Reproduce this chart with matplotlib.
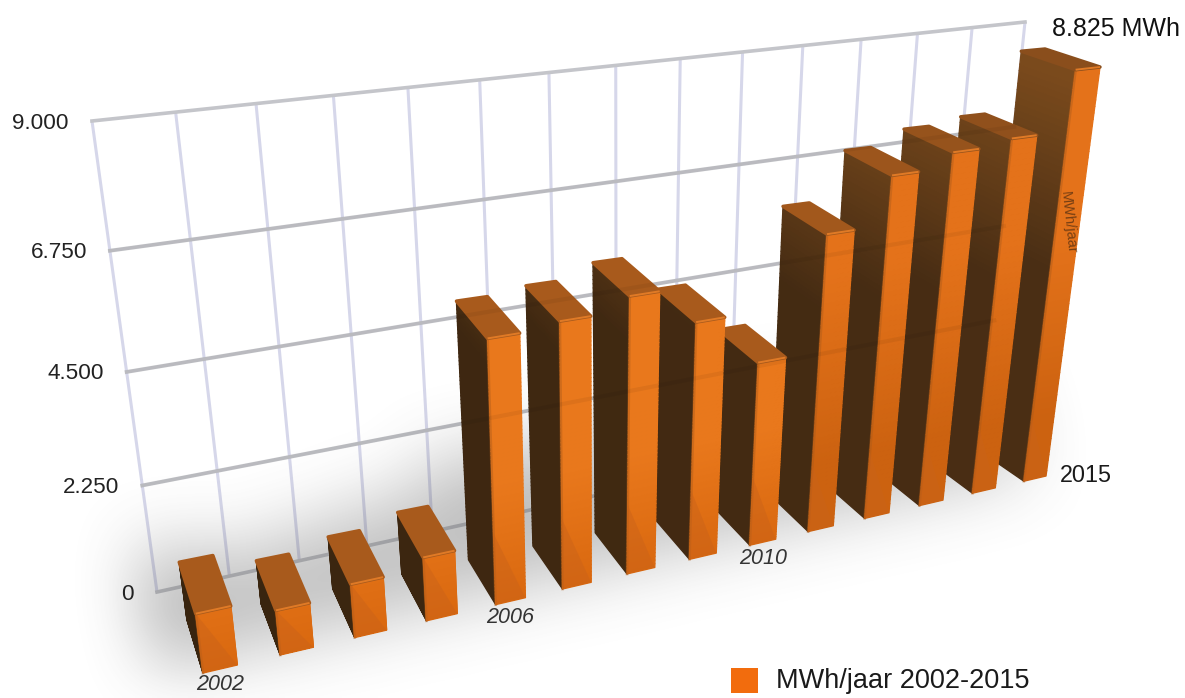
import numpy as np
import matplotlib
matplotlib.use("Agg")
import matplotlib.pyplot as plt
from matplotlib.collections import PolyCollection
from matplotlib.colors import to_rgb
from matplotlib.path import Path
from matplotlib.patches import Polygon, Rectangle

plt.rcParams['font.family'] = ['Liberation Sans', 'DejaVu Sans']

# values
years = list(range(2002, 2016))
values = [1190, 910, 1100, 1320, 5300, 5400, 5660, 4950, 3920, 6260, 7220, 7510, 7630, 8825]
y_ticks = [0, 2250, 4500, 6750, 9000]
y_tick_labels = ["0", "2.250", "4.500", "6.750", "9.000"]
year_labels = {2002: "2002", 2006: "2006", 2010: "2010"}
last_label = "2015"
top_label = "8.825 MWh"
legend_label = "MWh/jaar 2002-2015"
axis_title = "MWh/jaar"

W, H = 1185, 698
BAR_W = 0.44
VMAX = values[-1]


def homography(src, dst):
    # plain 4 point projective fit
    A, b = [], []
    for (x, y), (u, v) in zip(src, dst):
        A.append([x, y, 1, 0, 0, 0, -u * x, -u * y])
        A.append([0, 0, 0, x, y, 1, -v * x, -v * y])
        b += [u, v]
    h = np.linalg.solve(np.array(A, float), np.array(b, float))
    h = np.append(h, 1).reshape(3, 3)

    def f(x, y):
        p = h @ np.array([x, y, 1.0])
        return p[0] / p[2], p[1] / p[2]
    return f


# camera: wall, front of the bars, back of the bars
wall = homography([(-0.5, 0), (13.5, 0), (13.5, 9000), (-0.5, 9000)],
                  [(157, 592), (985, 410), (1025, 22), (92, 121)])
front = homography([(0, 0), (13.44, 0), (13.44, VMAX), (0, VMAX)],
                   [(203, 673), (1046, 476), (1100, 67), (142, 174)])
back = homography([(0, 0), (13.44, 0), (13.44, VMAX), (0, VMAX)],
                  [(187, 620), (1001, 446), (1045, 49), (122, 136)])


def mix(c1, c2, t):
    c1, c2 = np.array(to_rgb(c1)), np.array(to_rgb(c2))
    return tuple(c1 + (c2 - c1) * min(max(t, 0), 1))


def side_color(v, i):
    base = mix("#38240f", "#4a2e14", i / 13)
    return mix(base, "#7a4a1c", (v - 4800) / 3800)


def front_color(v, i):
    c = mix("#d9680f", "#e9781c", v / 2500)
    if i >= 9:
        c = mix("#cc6210", "#e4721a", (v - 1500) / 4000)
    return c


fig = plt.figure(figsize=(W / 100, H / 100), dpi=100)
ax = fig.add_axes([0, 0, 1, 1])
ax.set_xlim(0, W)
ax.set_ylim(H, 0)
ax.axis("off")

# grid on the wall
for i in range(15):
    p0 = wall(i - 0.5, 0)
    p1 = wall(i - 0.5, 9000)
    ax.plot([p0[0], p1[0]], [p0[1], p1[1]], color="#d6d7ea", lw=2.2, zorder=1, solid_capstyle="butt")
for t in y_ticks:
    p0 = wall(-0.5, t)
    p1 = wall(13.5, t)
    ax.plot([p0[0], p1[0]], [p0[1], p1[1]], color="#c4c5ca", lw=2.6, zorder=2)

# soft shadow under the bars
step = 3
gx, gy = np.meshgrid(np.arange(0, W, step), np.arange(0, H, step))
pts = np.column_stack([gx.ravel(), gy.ravel()])
mask = np.zeros(gx.shape)
for i, v in enumerate(values):
    h = min(v, 1900)
    quad = [front(i, 0), front(i + BAR_W, 0), back(i + BAR_W, h), back(i, h)]
    quad = [(x - 32, y - 8) for x, y in quad]
    mask[Path(quad).contains_points(pts).reshape(gx.shape)] = 1
for r in [13, 11, 9]:
    kernel = np.ones(2 * r + 1) / (2 * r + 1)
    mask = np.apply_along_axis(lambda m: np.convolve(m, kernel, mode="same"), 0, mask)
    mask = np.apply_along_axis(lambda m: np.convolve(m, kernel, mode="same"), 1, mask)
shadow = np.zeros(gx.shape + (4,))
shadow[..., :3] = 0.32
shadow[..., 3] = np.clip(mask * 0.85, 0, 0.6)
ax.imshow(shadow, extent=(0, W, H, 0), interpolation="bilinear", zorder=3, aspect="auto")
ax.set_xlim(0, W)
ax.set_ylim(H, 0)

# bars, far ones first
z = 5
for i in range(len(values) - 1, -1, -1):
    v = values[i]
    u0, u1 = i, i + BAR_W
    levels = np.linspace(0, v, 70)
    side_polys, side_cols, front_polys, front_cols = [], [], [], []
    for a, b in zip(levels[:-1], levels[1:]):
        side_polys.append([front(u0, a), front(u0, b), back(u0, b), back(u0, a)])
        side_cols.append(side_color((a + b) / 2, i))
        front_polys.append([front(u0, a), front(u1, a), front(u1, b), front(u0, b)])
        front_cols.append(front_color((a + b) / 2, i))
    ax.add_collection(PolyCollection(side_polys, facecolors=side_cols, edgecolors=side_cols, linewidths=1.0, zorder=z))
    ax.add_collection(PolyCollection(front_polys, facecolors=front_cols, edgecolors=front_cols, linewidths=1.0, zorder=z + 0.1))
    # soft edge between side and front
    ax.plot(*zip(front(u0, 0), front(u0, v)), color="#a8591a", alpha=0.4, lw=2.0, zorder=z + 0.15)
    # darker wedge at the foot of the front face
    wedge = [front(u0, 0), front(u1, 0), front(u0, min(v, 1500))]
    ax.add_patch(Polygon(wedge, closed=True, facecolor="#c9621a", alpha=0.45, edgecolor="none", zorder=z + 0.2))
    # top of the bar, rounded through the thick edge
    top_col = mix("#a85a1c", "#8a4e1c", (i - 8) / 5) if i > 8 else "#a85a1c"
    top = [front(u0, v), front(u1, v), back(u1, v), back(u0, v)]
    ax.add_patch(Polygon(top, closed=True, facecolor=top_col, edgecolor=top_col, lw=2.5, joinstyle="round", zorder=z + 0.3))
    ax.plot(*zip(front(u0, v), front(u1, v)), color="#e07a26", lw=1.4, solid_capstyle="butt", zorder=z + 0.4)
    z += 1

# wall lines show faintly through the bars
for t in y_ticks[1:4]:
    p0 = wall(-0.5, t)
    p1 = wall(13.5, t)
    ax.plot([p0[0], p1[0]], [p0[1], p1[1]], color="#000000", alpha=0.05, lw=3, zorder=40)

# y axis labels
for t, lab in zip(y_ticks, y_tick_labels):
    x, y = wall(-0.5, t)
    ax.text(x - 23, y + 2, lab, ha="right", va="center", fontsize=16.2, color="#222222", zorder=50)

# year labels
for yr, lab in year_labels.items():
    i = years.index(yr)
    x, y = front(i + BAR_W / 2, 0)
    ax.text(x, y + 16, lab, ha="center", va="center", fontsize=15.5, style="italic", color="#333333", zorder=50)
x, y = front(13.44, 0)
ax.text(x + 14, y - 1, last_label, ha="left", va="center", fontsize=16.8, color="#1a1a1a", zorder=50)
x, y = back(13.44, VMAX)
ax.text(x + 7, y - 20, top_label, ha="left", va="center", fontsize=18, color="#111111", zorder=50)

# faint axis title on the last bar
ax.text(1068, 222, axis_title, rotation=-84, ha="center", va="center", fontsize=10.5, color="#4a2a10", alpha=0.7, zorder=50)

# legend
ax.add_patch(Rectangle((731, 668), 27, 25, facecolor="#f26c0d", edgecolor="none", zorder=50))
ax.text(776, 681, legend_label, ha="left", va="center", fontsize=19.5, color="#1a1a1a", zorder=50)

fig.savefig("out.png", dpi=100)
